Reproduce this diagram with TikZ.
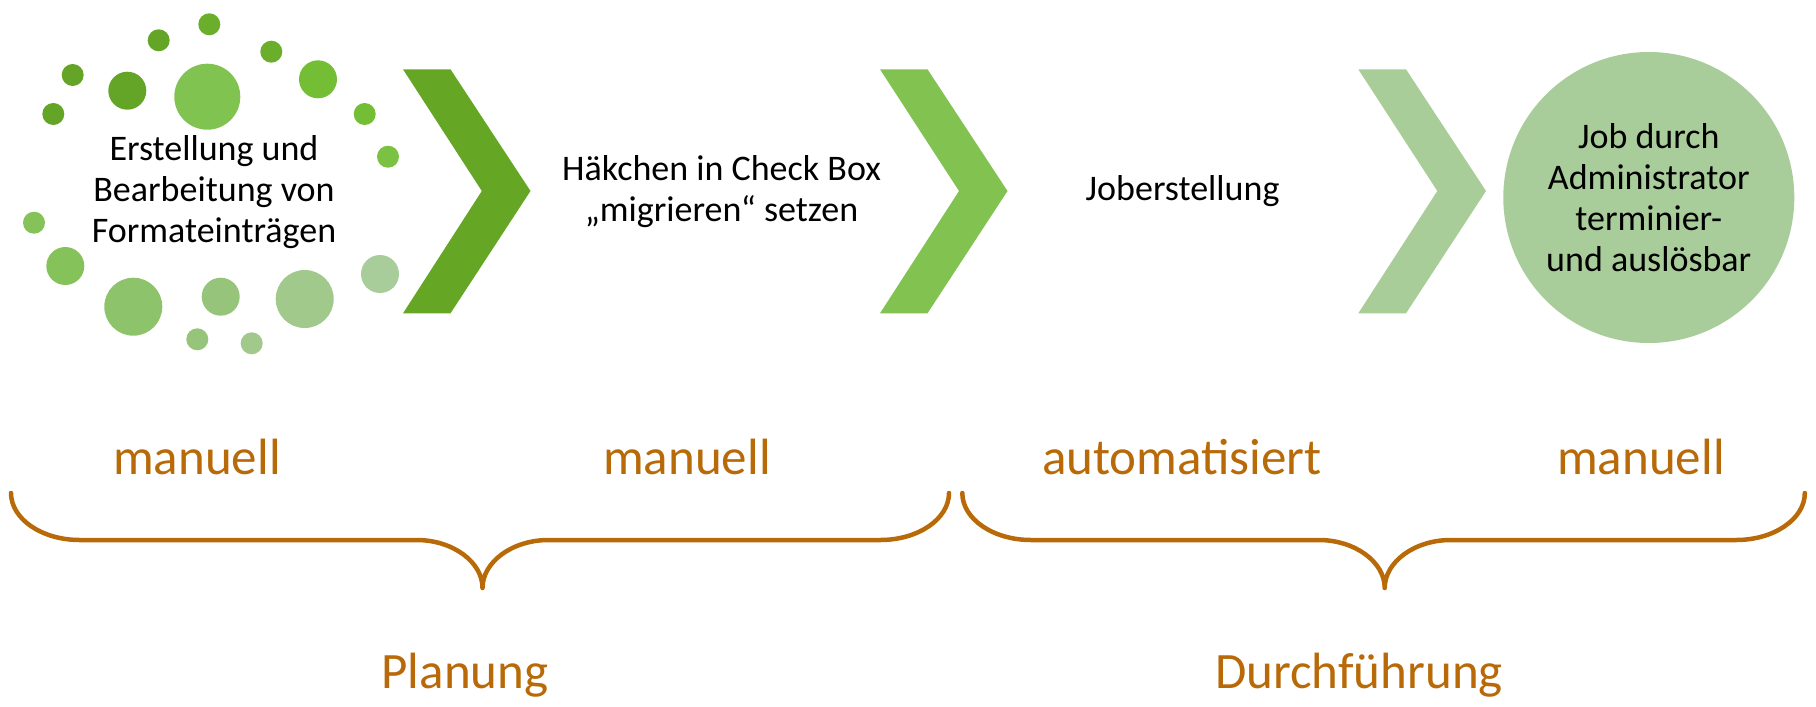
\documentclass[tikz,border=0pt]{standalone}
\usepackage{fontspec}
\setmainfont{Carlito}
\definecolor{gA}{HTML}{64A527}
\definecolor{gB}{HTML}{6AAE2C}
\definecolor{gC}{HTML}{74BE36}
\definecolor{gD}{HTML}{7BC242}
\definecolor{gE}{HTML}{80C350}
\definecolor{gF}{HTML}{85C25A}
\definecolor{gG}{HTML}{8DC46B}
\definecolor{gH}{HTML}{96C47A}
\definecolor{gI}{HTML}{A0C98B}
\definecolor{gJ}{HTML}{A9CD9A}
\definecolor{chevA}{HTML}{65A624}
\definecolor{chevB}{HTML}{82C250}
\definecolor{chevC}{HTML}{A9CD98}
\definecolor{ora}{RGB}{184,106,8}
\begin{document}
\begin{tikzpicture}[x=1pt,y=-1pt,
  dot/.style={circle,draw=none,inner sep=0pt,minimum size=#1},
  steptext/.style={align=center,text=black,font=\fontsize{36}{41}\selectfont},
  lbl/.style={anchor=base,text=ora,font=\fontsize{51}{56}\selectfont},
  phase/.style={anchor=base,text=ora,font=\fontsize{51}{56}\selectfont},
  bracepath/.style={draw=ora,line width=4.5pt,line cap=round,line join=round}]
\useasboundingbox (0,0) rectangle (1816,707);
% dots
\node[dot=22,fill=gB] (d1) at (209.3,24.3) {};
\node[dot=22,fill=gA] (d2) at (158.7,40.3) {};
\node[dot=22,fill=gB] (d3) at (271.3,51.7) {};
\node[dot=22,fill=gA] (d4) at (72.7,75) {};
\node[dot=38,fill=gA] (d5) at (127.3,90.7) {};
\node[dot=66,fill=gE] (d6) at (207.3,96.7) {};
\node[dot=38,fill=gC] (d7) at (318,79.3) {};
\node[dot=22,fill=gA] (d8) at (53.3,114) {};
\node[dot=22,fill=gC] (d9) at (364.7,114) {};
\node[dot=22,fill=gD] (d10) at (388,156.7) {};
\node[dot=22,fill=gF] (d11) at (34,222.7) {};
\node[dot=38,fill=gF] (d12) at (65.3,266) {};
\node[dot=58,fill=gG] (d13) at (133.3,306.7) {};
\node[dot=38,fill=gH] (d14) at (220.7,296.7) {};
\node[dot=58,fill=gI] (d15) at (304.7,299) {};
\node[dot=38,fill=gJ] (d16) at (380,274) {};
\node[dot=22,fill=gH] (d17) at (197.3,339.3) {};
\node[dot=22,fill=gI] (d18) at (251.7,343.3) {};
% chevrons
\fill[chevA] (403,69.3) -- (450.5,69.3) -- (530.5,191) -- (450.5,313.3) -- (403,313.3) -- (481.8,191) -- cycle;
\fill[chevB] (880,69.3) -- (927.5,69.3) -- (1007.5,191) -- (927.5,313.3) -- (880,313.3) -- (959,191) -- cycle;
\fill[chevC] (1358.3,69.3) -- (1406,69.3) -- (1486,191) -- (1406,313.3) -- (1358.3,313.3) -- (1437.3,191) -- cycle;
% final circle
\node[dot=291,fill=gJ] (fin) at (1648.8,197.5) {};
% texts
\node[steptext] (t1) at (214,192) {Erstellung und\\Bearbeitung von\\Formateinträgen};
\node[steptext] (t2) at (721.5,192) {Häkchen in Check Box\\„migrieren“ setzen};
\node[steptext] (t3) at (1182.6,191) {Joberstellung};
\node[steptext] (t4) at (fin) {Job durch\\Administrator\\terminier-\\und auslösbar};
% labels
\node[lbl] (m1) at (197,474) {manuell};
\node[lbl] (m2) at (687,474) {manuell};
\node[lbl] (m3) at (1182,474) {automatisiert};
\node[lbl] (m4) at (1641,474) {manuell};
\node[phase] (p1) at (465,688) {Planung};
\node[phase] (p2) at (1359,688) {Durchführung};
% braces
\draw[bracepath] (11,493) .. controls (11,519) and (41.9,540) .. (79.6,540) -- (416.5,540)
  .. controls (452.8,540) and (482.5,562) .. (482.5,588)
  .. controls (482.5,562) and (512.2,540) .. (548.5,540) -- (880.4,540)
  .. controls (918.1,540) and (949,519) .. (949,493);
\draw[bracepath] (962.3,493) .. controls (962.3,519) and (993.2,540) .. (1030.9,540) -- (1318.7,540)
  .. controls (1355,540) and (1384.7,562) .. (1384.7,588)
  .. controls (1384.7,562) and (1414.4,540) .. (1450.7,540) -- (1736.2,540)
  .. controls (1773.9,540) and (1804.8,519) .. (1804.8,493);
\end{tikzpicture}
\end{document}
